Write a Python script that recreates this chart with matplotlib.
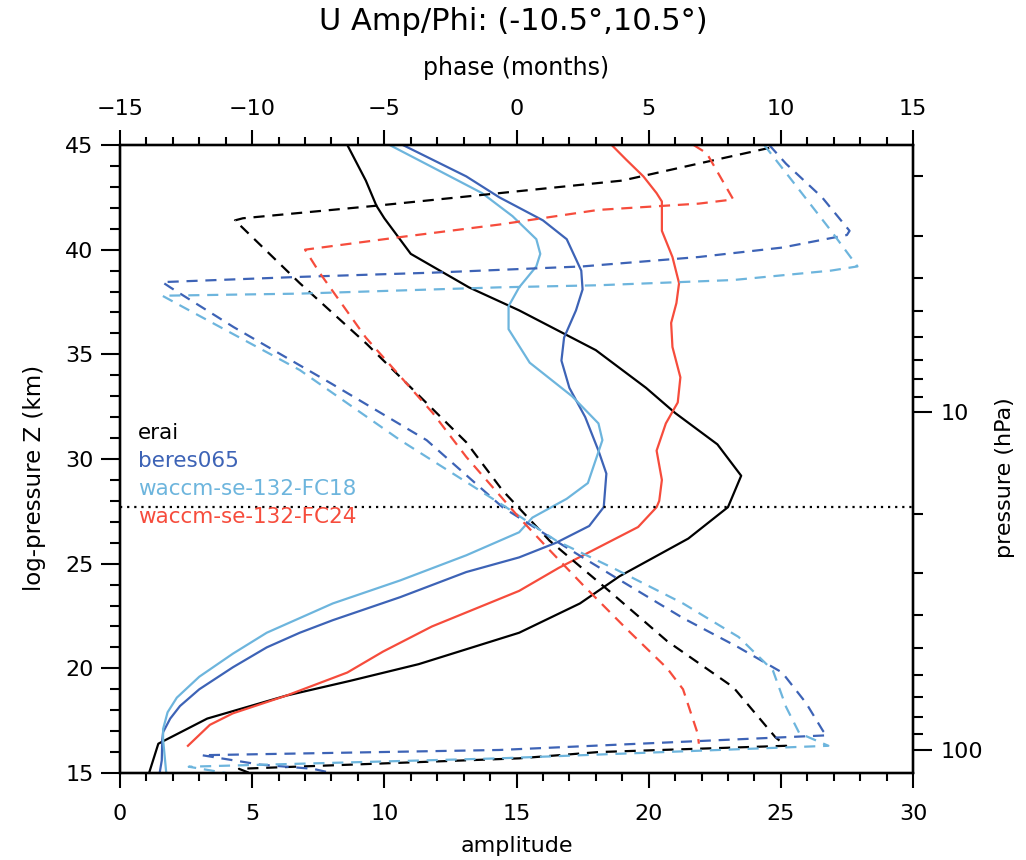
import numpy as np
import matplotlib
matplotlib.use("Agg")
import matplotlib.pyplot as plt
from matplotlib.ticker import MultipleLocator, FixedLocator, NullFormatter, FixedFormatter

# ---- data ----
# amplitude profiles (solid), z in km
z_erai_amp = [45.0, 43.3, 42.1, 41.5, 39.8, 38.2, 37.1, 35.2, 33.4, 32.2, 30.7, 29.2, 27.7,
              26.2, 24.4, 23.1, 21.7, 20.2, 19.4, 18.7, 17.6, 16.4, 15.0]
amp_erai = [8.6, 9.3, 9.7, 10.0, 11.0, 13.2, 15.1, 18.0, 19.9, 21.0, 22.6, 23.5, 23.0,
            21.5, 18.9, 17.4, 15.1, 11.3, 8.7, 6.3, 3.3, 1.45, 1.1]

z_beres_amp = [45.0, 43.5, 42.5, 41.4, 40.5, 39.0, 38.1, 37.1, 35.8, 34.7, 33.4, 32.0, 30.4,
               29.3, 27.7, 26.8, 26.0, 25.3, 24.6, 23.4, 22.3, 21.7, 21.0, 20.05, 19.0, 18.2,
               17.6, 16.95, 16.6, 15.6, 15.0]
amp_beres = [10.7, 13.1, 14.35, 16.0, 16.9, 17.45, 17.5, 17.25, 16.8, 16.7, 17.0, 17.6, 18.1,
             18.4, 18.3, 17.75, 16.5, 15.1, 13.1, 10.6, 8.05, 6.8, 5.55, 4.27, 3.0, 2.27,
             1.9, 1.63, 1.6, 1.58, 1.5]

z_fc18_amp = [45.0, 43.95, 42.7, 41.6, 40.5, 39.8, 39.2, 38.2, 37.3, 36.2, 34.6, 33.0, 31.7,
              30.9, 28.85, 28.1, 27.2, 26.5, 25.4, 24.2, 23.1, 21.7, 20.7, 19.6, 18.6, 17.9,
              17.1, 16.6, 15.0]
amp_fc18 = [10.2, 11.8, 13.7, 14.85, 15.75, 15.9, 15.75, 15.1, 14.7, 14.7, 15.5, 17.1, 18.1,
            18.25, 17.7, 16.9, 15.6, 15.1, 13.1, 10.6, 8.05, 5.55, 4.27, 3.0, 2.15, 1.8,
            1.63, 1.63, 1.75]

z_fc24_amp = [45.0, 44.3, 43.5, 42.7, 42.3, 40.9, 39.65, 38.4, 37.45, 36.5, 35.35, 33.9, 32.7,
              31.7, 30.4, 29.0, 28.0, 27.7, 26.75, 26.1, 24.8, 23.7, 22.0, 20.8, 19.8, 18.7,
              17.85, 17.3, 16.3]
amp_fc24 = [18.6, 19.15, 19.8, 20.3, 20.5, 20.5, 20.9, 21.15, 21.05, 20.85, 20.9, 21.2, 21.1,
            20.65, 20.3, 20.5, 20.4, 20.3, 19.6, 18.6, 16.6, 15.1, 11.8, 9.95, 8.6, 6.3,
            4.27, 3.4, 2.57]

# phase profiles (dashed), months
z_erai_ph = [44.86, 44.2, 43.3, 42.7, 42.1, 41.5, 41.4, 38.4, 35.5, 30.8, 28.5, 26.1,
             23.7, 21.3, 19.1, 16.7, 16.3, 16.0, 15.7, 15.2, 15.0]
ph_erai = [9.56, 7.2, 4.0, -0.65, -5.3, -10.35, -10.65, -8.2, -5.67, -1.9, -0.53, 1.25,
           3.5, 5.7, 8.2, 9.8, 10.2, 3.1, 0.1, -10.5, -10.1]

z_beres_ph = [45.0, 44.1, 42.5, 40.9, 40.7, 40.1, 39.65, 39.2, 38.9, 38.7, 38.45, 38.2, 36.3,
              33.6, 30.9, 27.7, 26.0, 25.3, 24.3, 22.4, 21.0, 19.8, 18.35, 17.0, 16.8, 16.1,
              15.85, 15.4, 15.2, 15.0]
ph_beres = [9.56, 10.2, 11.56, 12.6, 12.5, 10.05, 6.9, 2.5, -3.2, -8.2, -13.4, -13.1, -10.7,
            -7.0, -3.4, -0.53, 1.6, 2.5, 3.8, 6.3, 8.4, 10.05, 10.95, 11.6, 11.75, -0.65,
            -11.9, -9.7, -7.7, -7.0]

z_fc18_ph = [45.0, 43.5, 40.9, 39.2, 39.0, 38.55, 38.3, 38.2, 37.9, 37.8, 37.25, 34.25, 30.9,
             27.7, 26.1, 24.7, 23.1, 21.5, 19.9, 18.15, 16.9, 16.3, 15.7, 15.3, 15.0]
ph_fc18 = [9.37, 10.3, 11.9, 12.9, 11.9, 8.2, 3.1, -0.65, -8.2, -13.4, -12.6, -8.2, -4.4,
           -0.4, 1.5, 3.8, 6.3, 8.4, 9.7, 10.2, 10.7, 11.8, -0.65, -12.4, -11.0]

z_fc24_ph = [45.0, 44.6, 42.4, 42.2, 41.9, 41.2, 40.6, 40.0, 38.9, 35.8, 32.2, 30.1, 27.2,
             25.65, 24.0, 21.9, 20.0, 19.0, 16.9, 16.4]
ph_fc24 = [6.7, 7.2, 8.2, 6.9, 3.1, -0.65, -4.4, -8.0, -7.45, -5.7, -3.17, -1.9, 0.1,
           1.25, 2.5, 4.15, 5.7, 6.3, 6.85, 6.9]

names = ["erai", "beres065", "waccm-se-132-FC18", "waccm-se-132-FC24"]
colors = ["black", "#3d63b6", "#6db5dd", "#f64c3c"]
z_ref = 27.7          # dotted reference level (km)
H = 7.0               # scale height for pressure axis

fig = plt.figure(figsize=(10.26, 8.6), dpi=100)
ax = fig.add_axes([120/1026, 1-773/860, 793/1026, 628/860])

amps = [(z_erai_amp, amp_erai), (z_beres_amp, amp_beres), (z_fc18_amp, amp_fc18), (z_fc24_amp, amp_fc24)]
phs = [(z_erai_ph, ph_erai), (z_beres_ph, ph_beres), (z_fc18_ph, ph_fc18), (z_fc24_ph, ph_fc24)]

for (z, a), c in zip(amps, colors):
    ax.plot(a, z, color=c, lw=1.6, solid_joinstyle='round')
ax.axhline(z_ref, color='black', ls=(0, (1, 2.2)), lw=1.6)

ax.set_xlim(0, 30)
ax.set_ylim(15, 45)
ax.xaxis.set_major_locator(MultipleLocator(5))
ax.xaxis.set_minor_locator(MultipleLocator(1))
ax.yaxis.set_major_locator(MultipleLocator(5))
ax.yaxis.set_minor_locator(MultipleLocator(1))
ax.set_xlabel("amplitude", fontsize=16, va='center')
ax.xaxis.set_label_coords(0.5, (773-846)/628)
ax.set_ylabel("log-pressure Z (km)", fontsize=16.5, va='center')
ax.yaxis.set_label_coords((35-120)/793, 0.47)

ax_top = ax.twiny()
for (z, p), c in zip(phs, colors):
    ax_top.plot(p, z, color=c, lw=1.6, ls=(0, (5, 3.5)))
ax_top.set_xlim(-15, 15)
ax_top.xaxis.set_major_locator(MultipleLocator(5))
ax_top.xaxis.set_minor_locator(MultipleLocator(1))
ax_top.set_xlabel("phase (months)", fontsize=17, va='center')
ax_top.xaxis.set_label_coords(0.5, (773-68)/628)

ax_p = ax.twinx()
ax_p.set_yscale('log')
ax_p.set_ylim(1000*np.exp(-15/H), 1000*np.exp(-45/H))
ax_p.yaxis.set_major_locator(FixedLocator([10, 100]))
ax_p.yaxis.set_major_formatter(FixedFormatter(["10", "100"]))
ax_p.yaxis.set_minor_locator(FixedLocator([2, 3, 4, 5, 6, 7, 8, 9, 20, 30, 40, 50, 60, 70, 80, 90]))
ax_p.yaxis.set_minor_formatter(NullFormatter())
ax_p.set_ylabel("pressure (hPa)", fontsize=16, va='center', rotation=90)
ax_p.yaxis.set_label_coords((1005-120)/793, 0.47)

for a_ in (ax, ax_top, ax_p):
    for s in a_.spines.values():
        s.set_linewidth(1.6)
ax.tick_params(axis='x', which='major', direction='out', length=11, width=1.5, labelsize=16, pad=11)
ax.tick_params(axis='x', which='minor', direction='out', length=5.5, width=1.5)
ax.tick_params(axis='y', which='major', direction='out', length=14, width=1.5, labelsize=16, pad=5)
ax.tick_params(axis='y', which='minor', direction='out', length=7, width=1.5)
ax_top.tick_params(axis='x', which='major', direction='out', length=11, width=1.5, labelsize=16, pad=8)
ax_top.tick_params(axis='x', which='minor', direction='out', length=5.5, width=1.5)
ax_p.tick_params(axis='y', which='major', direction='out', length=14, width=1.5, labelsize=16, pad=6)
ax_p.tick_params(axis='y', which='minor', direction='out', length=7, width=1.5)

# legend as coloured text
for i, (n, c) in enumerate(zip(names, colors)):
    ax.text(18/793, (773-433-28*i)/628, n, color=c, fontsize=15.5, va='center', ha='left',
            transform=ax.transAxes)

fig.text(0.5, 1-22/860, "U Amp/Phi: (-10.5°,10.5°)", ha='center', va='center', fontsize=22)

fig.savefig("out.png", dpi=100)
